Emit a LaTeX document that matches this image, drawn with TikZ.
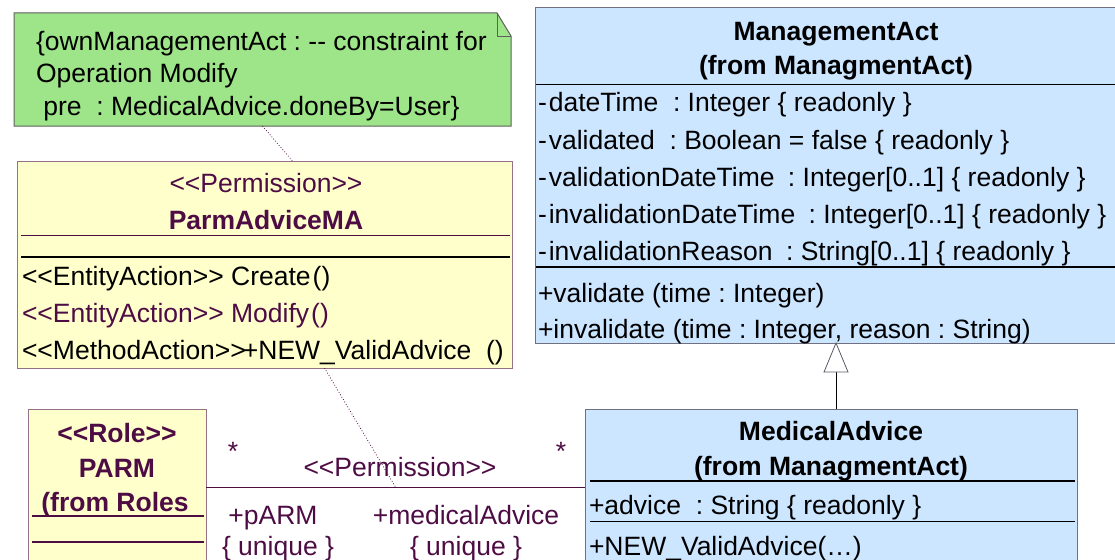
\documentclass[tikz,border=0pt]{standalone}
\usepackage{fontspec}
\setmainfont{Liberation Sans}
\usetikzlibrary{calc}
\frenchspacing

\definecolor{notegreen}{RGB}{158,228,136}
\definecolor{classyellow}{RGB}{255,255,204}
\definecolor{classblue}{RGB}{204,230,255}
\definecolor{plum}{RGB}{78,12,68}
\definecolor{yellowedge}{RGB}{150,112,132}
\definecolor{blueedge}{RGB}{112,112,128}
\definecolor{noteedge}{RGB}{95,95,95}

% stereotype brackets, kept apart so the font mapping leaves them as typed
\newcommand{\sopen}{<\kern0pt<}
\newcommand{\sclose}{>\kern0pt>}
\newcommand{\umlsize}{\fontsize{26.5}{30}\selectfont}

\tikzset{
  every node/.style={inner sep=0pt, outer sep=0pt, font=\umlsize},
  frame/.style={anchor=north west, inner sep=0pt, line width=1pt},
  yellowbox/.style={frame, draw=yellowedge, fill=classyellow},
  bluebox/.style={frame, draw=blueedge, fill=classblue},
  ltext/.style={anchor=base west},
  ctext/.style={anchor=base},
  bold/.style={font=\umlsize\bfseries},
  rule/.style={line width=0.9pt},
  thickrule/.style={line width=2.2pt},
  dependency/.style={plum, line width=0.8pt, dotted},
  association/.style={plum, line width=1pt},
  generalization/.style={line width=1pt},
}

\begin{document}
\begin{tikzpicture}[x=1pt, y=-1pt]
\clip (0,0) rectangle (1115,559);

% ---------- constraint note ----------
\node[frame, minimum width=497pt, minimum height=113pt] (note) at (14,13) {};
\fill[notegreen, draw=noteedge, line width=1pt]
  (note.north west) -- ($(note.north east)+(-14,0)$) -- ($(note.north east)+(0,23)$)
  -- (note.south east) -- (note.south west) -- cycle;
\draw[noteedge, line width=0.8pt]
  ($(note.north east)+(-14,0)$) -- ($(note.north east)+(-14,23)$) -- ($(note.north east)+(0,23)$);
\node[ltext] (note1) at (36,51) {\{ownManagementAct : -\kern0pt- constraint for};
\node[ltext] (note2) at (36,83) {Operation Modify};
\node[ltext] (note3) at (36,115) {\ pre\ \ : MedicalAdvice.doneBy=User\}};

% ---------- permission class ----------
\node[yellowbox, minimum width=495pt, minimum height=207pt] (parmma) at (17,161) {};
\node[ctext, plum] (parmst) at (266,192) {\sopen Permission\sclose};
\node[ctext, bold, plum] (parmname) at (266,229) {ParmAdviceMA};
\draw[rule, plum] (21,235) -- (510,235);
\draw[thickrule] (21,257) -- (510,257);
\node[ltext] (op1) at (22,285) {\sopen EntityAction\sclose\ Create\kern2pt()};
\node[ltext, plum] (op2) at (22,322) {\sopen EntityAction\sclose\ Modify\kern2pt()};
\node[ltext] (op3) at (22,359) {\sopen MethodAction\sclose\kern-3pt+NEW\_ValidAdvice\ \ ()};

% ---------- ManagementAct ----------
\node[bluebox, minimum width=602pt, minimum height=335pt] (mact) at (535,8) {};
\node[ctext, bold] (mactname) at (836,41) {ManagementAct};
\node[ctext, bold] (mactfrom) at (836,75) {(from ManagmentAct)};
\draw[rule] (536,84) -- (1137,84);
\node[ltext] (a1) at (538,111) {-\kern2pt dateTime\ \ : Integer \{ readonly \}};
\node[ltext] (a2) at (538,149) {-\kern2pt validated\ \ : Boolean = false \{ readonly \}};
\node[ltext] (a3) at (538,186) {-\kern2pt validationDateTime\kern6pt\ : Integer[0..1] \{ readonly \}};
\node[ltext] (a4) at (538,223) {-\kern2pt invalidationDateTime\kern6pt\ : Integer[0..1] \{ readonly \}};
\node[ltext] (a5) at (538,260) {-\kern2pt invalidationReason\kern6pt\ : String[0..1] \{ readonly \}};
\draw[thickrule] (536,267) -- (1137,267);
\node[ltext] (m1) at (538,302) {+validate (time : Integer)};
\node[ltext] (m2) at (538,338) {+invalidate (time : Integer, reason : String)};

% ---------- MedicalAdvice ----------
\node[bluebox, minimum width=492pt, minimum height=200pt] (madv) at (585,409) {};
\node[ctext, bold] (madvname) at (831,440) {MedicalAdvice};
\node[ctext, bold] (madvfrom) at (831,475) {(from ManagmentAct)};
\draw[thickrule] (590,481) -- (1075,481);
\node[ltext] (b1) at (589,514) {+advice\ \ : String \{ readonly \}};
\draw[rule] (590,521) -- (1075,521);
\node[ltext] (b2) at (589,555) {+NEW\_ValidAdvice(…)};

% ---------- role PARM ----------
\node[yellowbox, minimum width=178pt, minimum height=200pt] (prole) at (28,409) {};
\node[ctext, bold, plum] (rolest) at (117,442) {\sopen Role\sclose};
\node[ctext, bold, plum] (rolename) at (117,477) {PARM};
\node[ctext, bold, plum] (rolefrom) at (115,511) {(from Roles};
\draw[thickrule, plum] (32,516) -- (204,516);
\draw[thickrule, plum] (32,542) -- (204,542);

% ---------- generalization MedicalAdvice -> ManagementAct ----------
\coordinate (genbase) at ($(mact.south)+(0,29)$);
\draw[generalization] (madv.north -| mact.south) -- (genbase);
\draw[blueedge!80!black, fill=white, line width=0.8pt]
  (mact.south) -- ($(genbase)+(-12,0)$) -- ($(genbase)+(12,0)$) -- cycle;

% ---------- association PARM -- MedicalAdvice ----------
\coordinate (assocL) at ($(prole.north east)+(0,78)$);
\coordinate (assocR) at (madv.west |- assocL);
\draw[association] (assocL) -- coordinate[midway] (assocmid) (assocR);
\node[ctext, plum] (multL) at (233,460) {*};
\node[ctext, plum] (multR) at (561,460) {*};
\node[ctext, plum] (assocname) at (400,476) {\sopen Permission\sclose};
\node[ctext, plum] (roleL) at (273,524) {+pARM};
\node[ctext, plum] (uniqL) at (278,555) {\{ unique \}};
\node[ctext, plum] (roleR) at (466,524) {+medicalAdvice};
\node[ctext, plum] (uniqR) at (466,555) {\{ unique \}};

% ---------- dotted attachments ----------
\draw[dependency] (note.south) -- ($(parmma.north)+(28,0)$);
\draw[dependency] ($(parmma.south)+(60,0)$) -- (assocmid);
\end{tikzpicture}
\end{document}
